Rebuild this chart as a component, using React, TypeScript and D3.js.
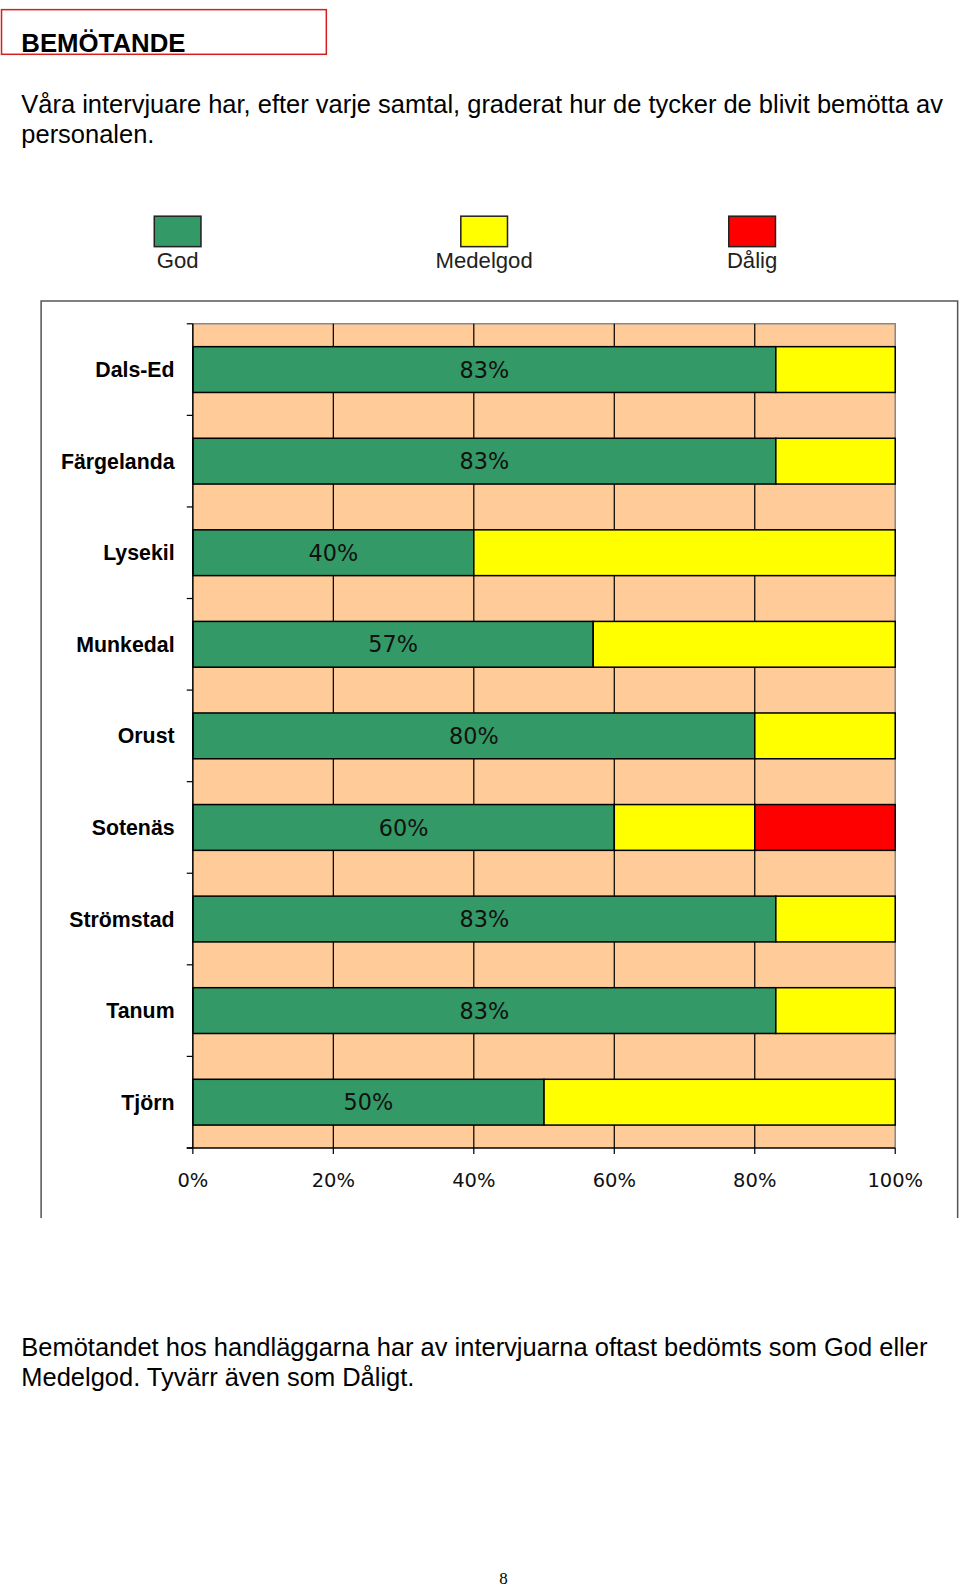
import React from 'react';
import * as d3 from 'd3';

const categories = ['Dals-Ed', 'Färgelanda', 'Lysekil', 'Munkedal', 'Orust', 'Sotenäs', 'Strömstad', 'Tanum', 'Tjörn'];
const god = [83, 83, 40, 57, 80, 60, 83, 83, 50];
const medelgod = [17, 17, 60, 43, 20, 20, 17, 17, 50];
const dalig = [0, 0, 0, 0, 0, 20, 0, 0, 0];
const xTicks = [0, 20, 40, 60, 80, 100];

const seriesNames = ['God', 'Medelgod', 'Dålig'];
const colors = ['#339966', '#FFFF00', '#FF0000'];

const W = 960;
const H = 1589;
// layout measured on a 945-wide copy, scaled up to the page
const S = 1.015;
const plot = { left: 190, right: 882, top: 319, bottom: 1131 };
const legendPos = [175, 477, 741];

const App: React.FC = () => {
    const x = d3.scaleLinear().domain([0, 100]).range([plot.left, plot.right]);
    const y = d3.scaleBand<string>()
        .domain(categories)
        .range([plot.top, plot.bottom])
        .paddingInner(0.5)
        .paddingOuter(0.25);

    const rows = categories.map((c, i) => ({ cat: c, God: god[i], Medelgod: medelgod[i], 'Dålig': dalig[i] }));
    const stack = d3.stack<any>().keys(seriesNames)(rows);

    const rowH = (plot.bottom - plot.top) / categories.length;
    const boundaries = d3.range(categories.length + 1).map(i => plot.top + i * rowH);

    const font = 'Liberation Sans, Arial, sans-serif';
    const chartFont = 'DejaVu Sans, Verdana, sans-serif';

    return (
        <svg width={W} height={H} style={{ position: 'absolute', left: 0, top: 0, background: '#fff' }}>
            <g transform={`scale(${S})`}>
                {/* header box */}
                <rect x={1.5} y={9.5} width={320} height={44} fill="none" stroke="#d62020" strokeWidth={1.5} />
                <text x={21} y={51} fontFamily={font} fontSize={25.4} fontWeight="bold" fill="#000">BEMÖTANDE</text>

                <text fontFamily={font} fontSize={25.1} fill="#000">
                    <tspan x={21} y={111}>Våra intervjuare har, efter varje samtal, graderat hur de tycker de blivit bemötta av</tspan>
                    <tspan x={21} y={141}>personalen.</tspan>
                </text>

                {/* legend */}
                {seriesNames.map((s, i) => (
                    <g key={s}>
                        <rect x={legendPos[i] - 23} y={213} width={46} height={30} fill={colors[i]} stroke="#222" strokeWidth={1.5} />
                        <text x={legendPos[i]} y={264} textAnchor="middle" fontFamily={font} fontSize={21.8} fill="#222">{s}</text>
                    </g>
                ))}

                {/* outer chart frame */}
                <path d={`M40.5,1200 V296.5 H943.5 V1200`} fill="none" stroke="#555" strokeWidth={1.5} />

                {/* plot background */}
                <rect x={plot.left} y={plot.top} width={plot.right - plot.left} height={plot.bottom - plot.top} fill="#FFCC99" />
                <path d={`M${plot.left},${plot.top} H${plot.right} V${plot.bottom}`} fill="none" stroke="#888" strokeWidth={1.5} />

                {/* vertical gridlines */}
                {xTicks.slice(1, -1).map(t => (
                    <line key={t} x1={x(t)} x2={x(t)} y1={plot.top} y2={plot.bottom} stroke="#000" strokeWidth={1.2} />
                ))}

                {/* bars */}
                {stack.map((layer, si) => (
                    <g key={seriesNames[si]}>
                        {layer.map((d, i) => {
                            const w = x(d[1]) - x(d[0]);
                            if (w <= 0) return null;
                            return (
                                <rect key={i} x={x(d[0])} y={y(categories[i])} width={w} height={y.bandwidth()}
                                    fill={colors[si]} stroke="#000" strokeWidth={1.5} />
                            );
                        })}
                    </g>
                ))}

                {/* bar labels */}
                {categories.map((c, i) => (
                    <text key={c} x={x(god[i] / 2)} y={(y(c) as number) + y.bandwidth() / 2 + 8}
                        textAnchor="middle" fontFamily={chartFont} fontSize={22} fill="#111">{god[i]}%</text>
                ))}

                {/* y axis */}
                <line x1={plot.left} x2={plot.left} y1={plot.top} y2={plot.bottom} stroke="#000" strokeWidth={1.5} />
                {boundaries.map((b, i) => (
                    <line key={i} x1={plot.left - 6} x2={plot.left} y1={b} y2={b} stroke="#000" strokeWidth={1.2} />
                ))}
                {categories.map(c => (
                    <text key={c} x={172} y={(y(c) as number) + y.bandwidth() / 2 + 7.5} textAnchor="end"
                        fontFamily={font} fontSize={21} fontWeight="bold" fill="#000">{c}</text>
                ))}

                {/* x axis */}
                <line x1={plot.left - 6} x2={plot.right} y1={plot.bottom} y2={plot.bottom} stroke="#000" strokeWidth={1.5} />
                {xTicks.map(t => (
                    <g key={t}>
                        <line x1={x(t)} x2={x(t)} y1={plot.bottom} y2={plot.bottom + 6} stroke="#000" strokeWidth={1.2} />
                        <text x={x(t)} y={plot.bottom + 38} textAnchor="middle" fontFamily={chartFont} fontSize={19.2} fill="#111">{t}%</text>
                    </g>
                ))}

                {/* bottom text */}
                <text fontFamily={font} fontSize={25.1} fill="#000">
                    <tspan x={21} y={1336}>Bemötandet hos handläggarna har av intervjuarna oftast bedömts som God eller</tspan>
                    <tspan x={21} y={1366}>Medelgod. Tyvärr även som Dåligt.</tspan>
                </text>

                <text x={496} y={1561} textAnchor="middle" fontFamily="Liberation Serif, serif" fontSize={16.7} fill="#000">8</text>
            </g>
        </svg>
    );
};

export default App;
